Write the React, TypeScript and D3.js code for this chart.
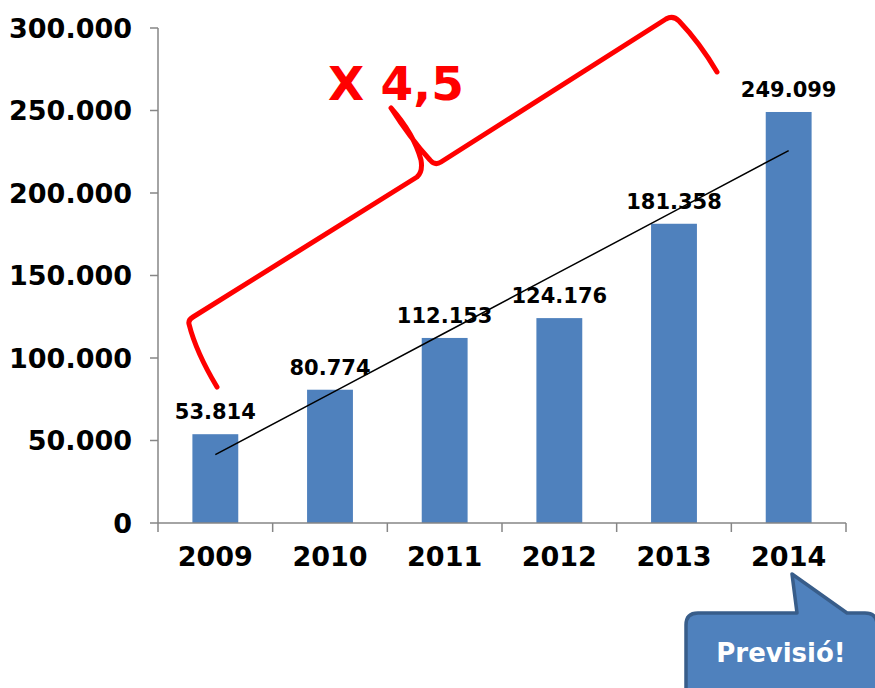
import * as d3 from 'd3';
import React from 'react';

const years = ['2009', '2010', '2011', '2012', '2013', '2014'];
const values = [53814, 80774, 112153, 124176, 181358, 249099];
const yTicks = [0, 50000, 100000, 150000, 200000, 250000, 300000];

const W = 875;
const H = 688;
const FONT = '"DejaVu Sans", Verdana, sans-serif';
const AXIS = '#868686';
const BAR = '#4f81bd';

const fmt = d3.formatLocale({ decimal: ',', thousands: '.', grouping: [3], currency: ['', ''] }).format(',d');

const App = () => {
  const x = d3.scaleBand<string>().domain(years).range([158, 846]).padding(0);
  const y = d3.scaleLinear().domain([0, 300000]).range([523, 28]);
  const barW = x.bandwidth() * 0.4;
  const cx = (d: string) => x(d)! + x.bandwidth() / 2;

  // linear trend (least squares) from the series
  const n = values.length;
  const mx = d3.mean(d3.range(n))!;
  const my = d3.mean(values)!;
  const slope =
    d3.sum(d3.range(n), (i) => (i - mx) * (values[i] - my)) / d3.sum(d3.range(n), (i) => (i - mx) ** 2);
  const icpt = my - slope * mx;
  const trend = d3
    .line<number>()
    .x((i) => cx(years[i]))
    .y((i) => y(icpt + slope * i))(d3.range(n));

  const brace =
    'M217,387 Q196,352 189,324 Q188,320 193,317 L417,177 Q423,172 421,160 Q414,134 391,108 ' +
    'Q410,138 430,160 Q435,166 441,162 L666,19 Q673,15 679,21 Q700,43 717,72';

  const callout =
    'M698,613 L797,613 L792,574 L847,613 L865,613 Q877,613 877,625 L877,691 L686,691 L686,625 Q686,613 698,613 Z';

  return (
    <svg width={W} height={H} style={{ position: 'absolute', left: 0, top: 0 }} fontFamily={FONT}>
      <rect width={W} height={H} fill="#fff" />
      {/* y axis */}
      <line x1={158} x2={158} y1={y(300000)} y2={y(0)} stroke={AXIS} strokeWidth={1.5} />
      {yTicks.map((t) => (
        <g key={t}>
          <line x1={150} x2={158} y1={y(t)} y2={y(t)} stroke={AXIS} strokeWidth={1.5} />
          <text x={132} y={y(t)} dy="0.36em" textAnchor="end" fontSize={27} fontWeight="bold">
            {fmt(t)}
          </text>
        </g>
      ))}
      {/* bars */}
      {years.map((yr, i) => (
        <rect key={yr} x={cx(yr) - barW / 2} y={y(values[i])} width={barW} height={y(0) - y(values[i])} fill={BAR} />
      ))}
      {/* x axis */}
      <line x1={158} x2={846} y1={523} y2={523} stroke={AXIS} strokeWidth={1.5} />
      {[...years.map((d) => x(d)!), 846].map((px, i) => (
        <line key={i} x1={px} x2={px} y1={523} y2={532} stroke={AXIS} strokeWidth={1.5} />
      ))}
      {years.map((yr) => (
        <text key={yr} x={cx(yr)} y={566} textAnchor="middle" fontSize={27} fontWeight="bold">
          {yr}
        </text>
      ))}
      {/* trend line */}
      <path d={trend!} fill="none" stroke="#000" strokeWidth={1.5} />
      {/* data labels */}
      {years.map((yr, i) => (
        <text key={yr} x={cx(yr)} y={y(values[i]) - 15} textAnchor="middle" fontSize={21} fontWeight="bold">
          {fmt(values[i])}
        </text>
      ))}
      {/* brace annotation */}
      <path d={brace} fill="none" stroke="#ff0000" strokeWidth={5} strokeLinecap="round" strokeLinejoin="round" />
      <text x={328} y={100} fontSize={47} fontWeight="bold" fill="#ff0000">
        X 4,5
      </text>
      {/* callout */}
      <path d={callout} fill={BAR} stroke="#385d8a" strokeWidth={3.5} strokeLinejoin="round" />
      <text x={781} y={662} textAnchor="middle" fontSize={26} fontWeight="bold" fill="#fff">
        Previsió!
      </text>
    </svg>
  );
};

export default App;
